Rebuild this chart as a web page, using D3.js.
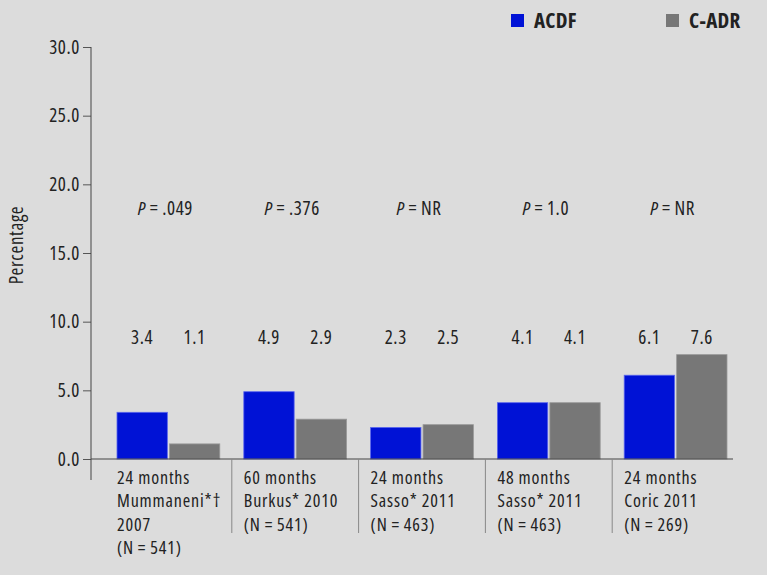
<!DOCTYPE html>
<html>
<head>
<meta charset="utf-8">
<script src="https://cdn.jsdelivr.net/npm/d3@7"></script>
<style>
  body { margin: 0; background: #dcdcdc; }
  svg { display: block; }
  text { font-family: "Open Sans", "DejaVu Sans Condensed", sans-serif; font-stretch: condensed; fill: #222; letter-spacing: 0.6px; }
  .xlab { letter-spacing: 0.85px; }
</style>
</head>
<body>
<svg id="chart" width="767" height="575"></svg>
<script>
// data
const groups = ["g1", "g2", "g3", "g4", "g5"];
const groupLabels = [
  ["24 months", "Mummaneni*\u2020", "2007", "(N\u2009=\u2009541)"],
  ["60 months", "Burkus* 2010", "(N\u2009=\u2009541)"],
  ["24 months", "Sasso* 2011", "(N\u2009=\u2009463)"],
  ["48 months", "Sasso* 2011", "(N\u2009=\u2009463)"],
  ["24 months", "Coric 2011", "(N\u2009=\u2009269)"]
];
const acdf = [3.4, 4.9, 2.3, 4.1, 6.1];
const cadr = [1.1, 2.9, 2.5, 4.1, 7.6];
const pValues = [".049", ".376", "NR", "1.0", "NR"];
const yTicks = [0, 5, 10, 15, 20, 25, 30];
const seriesNames = ["ACDF", "C-ADR"];
const colors = ["#0012d6", "#777777"];

const fs = 19;
const svg = d3.select("#chart");

const y = d3.scaleLinear().domain([0, 30]).range([459, 47]);
const x = d3.scaleBand().domain(groups).range([105, 739]).paddingInner(0).paddingOuter(0);
const inner = d3.scaleBand().domain(seriesNames).range([12, x.bandwidth() - 12]).paddingInner(0.04);

// y axis
const yAxis = svg.append("g")
  .attr("transform", "translate(91,0)")
  .call(d3.axisLeft(y).tickValues(yTicks).tickFormat(d3.format(".1f")).tickSize(8).tickPadding(3));
yAxis.select(".domain").remove();
yAxis.selectAll(".tick line").attr("stroke", "#555");
yAxis.selectAll(".tick text").attr("font-size", fs).attr("fill", "#222");
svg.append("line").attr("x1", 91).attr("x2", 91).attr("y1", y(30)).attr("y2", 480)
  .attr("stroke", "#444").attr("stroke-width", 1);

svg.append("text")
  .attr("transform", "translate(23,245) rotate(-90)")
  .attr("text-anchor", "middle")
  .attr("font-size", fs)
  .text("Percentage");

// bars
const data = groups.map((g, i) => ({ g, i, vals: [acdf[i], cadr[i]] }));
const gs = svg.selectAll(".grp").data(data).join("g")
  .attr("class", "grp")
  .attr("transform", d => `translate(${x(d.g)},0)`);

gs.selectAll("rect").data(d => d.vals.map((v, k) => ({ v, k })))
  .join("rect")
  .attr("x", d => inner(seriesNames[d.k]))
  .attr("width", inner.bandwidth())
  .attr("y", d => y(d.v))
  .attr("height", d => y(0) - y(d.v))
  .attr("fill", d => colors[d.k])
  .attr("stroke", d => d.k === 0 ? "#5a66ee" : "#999")
  .attr("stroke-width", 0.8);

gs.selectAll(".val").data(d => d.vals.map((v, k) => ({ v, k })))
  .join("text")
  .attr("class", "val")
  .attr("x", d => inner(seriesNames[d.k]) + inner.bandwidth() / 2)
  .attr("y", 344)
  .attr("text-anchor", "middle")
  .attr("font-size", fs)
  .text(d => d3.format(".1f")(d.v));

const pt = gs.append("text")
  .attr("x", x.bandwidth() / 2 - 3)
  .attr("y", 215)
  .attr("text-anchor", "middle")
  .attr("font-size", fs);
pt.append("tspan").attr("font-style", "italic").text("P");
pt.append("tspan").text(d => "\u2009=\u2009" + pValues[d.i]);

// labels under bars
gs.each(function (d) {
  const t = d3.select(this).append("text").attr("class", "xlab").attr("font-size", 18);
  groupLabels[d.i].forEach((line, j) => {
    t.append("tspan").attr("x", inner(seriesNames[0])).attr("y", 484 + j * 23.3).text(line);
  });
});

// baseline and separators
svg.append("line").attr("x1", 91).attr("x2", 733).attr("y1", y(0)).attr("y2", y(0))
  .attr("stroke", "#444").attr("stroke-width", 1.2);
svg.selectAll(".sep").data(groups.slice(1)).join("line")
  .attr("class", "sep")
  .attr("x1", d => x(d)).attr("x2", d => x(d))
  .attr("y1", y(0)).attr("y2", 533)
  .attr("stroke", "#888").attr("stroke-width", 1);

// legend
const legX = [511, 666];
const leg = svg.selectAll(".leg").data(seriesNames).join("g")
  .attr("class", "leg")
  .attr("transform", (d, i) => `translate(${legX[i]},14)`);
leg.append("rect").attr("width", 13).attr("height", 13).attr("fill", (d, i) => colors[i]);
leg.append("text").attr("x", 23).attr("y", 14).attr("font-size", 21).attr("font-weight", "bold")
  .style("letter-spacing", "0.3px").text(d => d);
</script>
</body>
</html>
